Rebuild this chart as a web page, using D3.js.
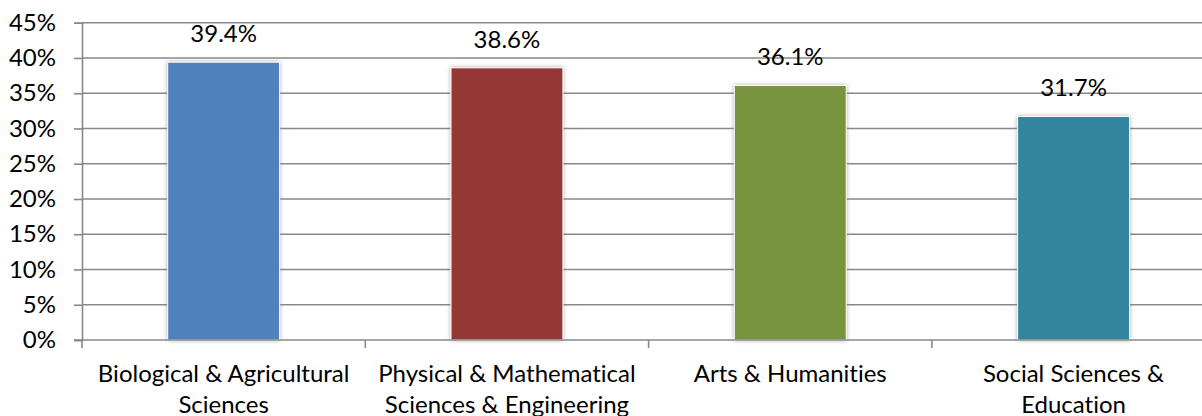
<!DOCTYPE html>
<html>
<head>
<meta charset="utf-8">
<script src="https://cdn.jsdelivr.net/npm/d3@7"></script>
<style>
  body { margin: 0; background: #fff; }
  svg text { font-family: Lato, "Open Sans", sans-serif; fill: #000; font-variant-ligatures: none; }
</style>
</head>
<body>
<div id="chart-area"></div>
<script>
// categories and values
var categories = [
    ["Biological & Agricultural", "Sciences"],
    ["Physical & Mathematical", "Sciences & Engineering"],
    ["Arts & Humanities"],
    ["Social Sciences &", "Education"]
];
var values = [39.4, 38.6, 36.1, 31.7];
var colors = ["#4f81bd", "#953735", "#77933c", "#31859c"];
var yTicks = [0, 5, 10, 15, 20, 25, 30, 35, 40, 45];

var width = 1202, height = 416;
var plotLeft = 82, plotBottom = 340, plotTop = 22.7;
var step = 283.3;
var fontSize = "24px";

var svg = d3.select("#chart-area").append("svg")
    .attr("width", width)
    .attr("height", height);

var defs = svg.append("defs");
var f = defs.append("filter").attr("id", "glow")
    .attr("x", "-20%").attr("y", "-20%").attr("width", "140%").attr("height", "140%");
f.append("feDropShadow")
    .attr("dx", 0).attr("dy", 0)
    .attr("stdDeviation", 2)
    .attr("flood-color", "#888")
    .attr("flood-opacity", 0.7);

var x = d3.scaleBand()
    .domain(d3.range(categories.length))
    .range([plotLeft, plotLeft + step * categories.length])
    .paddingInner(0.605)
    .paddingOuter(0.3025);

var y = d3.scaleLinear()
    .domain([0, 45])
    .range([plotBottom, plotTop]);

// gridlines
svg.selectAll("line.grid")
    .data(yTicks.slice(1))
    .enter()
    .append("line")
    .attr("class", "grid")
    .attr("x1", plotLeft).attr("x2", width)
    .attr("y1", function(d){ return y(d); })
    .attr("y2", function(d){ return y(d); })
    .attr("stroke", "#888")
    .attr("stroke-width", 1.6);

// bars
svg.selectAll("rect.bar")
    .data(values)
    .enter()
    .append("rect")
    .attr("class", "bar")
    .attr("x", function(d, i){ return x(i); })
    .attr("y", function(d){ return y(d); })
    .attr("width", x.bandwidth())
    .attr("height", function(d){ return plotBottom - y(d); })
    .attr("fill", function(d, i){ return colors[i]; })
    .attr("stroke", "#fff")
    .attr("stroke-width", 1)
    .attr("filter", "url(#glow)");

// value labels
svg.selectAll("text.val")
    .data(values)
    .enter()
    .append("text")
    .attr("class", "val")
    .attr("x", function(d, i){ return x(i) + x.bandwidth() / 2; })
    .attr("y", function(d){ return y(d) - 20; })
    .attr("text-anchor", "middle")
    .style("font-size", fontSize)
    .text(function(d){ return d.toFixed(1) + "%"; });

// y axis
var yAxis = d3.axisLeft(y)
    .tickValues(yTicks)
    .tickSize(8)
    .tickPadding(18)
    .tickFormat(function(d){ return d + "%"; });

var gy = svg.append("g")
    .attr("transform", "translate(" + plotLeft + ",0)")
    .call(yAxis);
gy.attr("font-family", null).attr("font-size", null);
gy.select(".domain").attr("stroke", "#888").attr("stroke-width", 1.6);
gy.selectAll(".tick line").attr("stroke", "#888").attr("stroke-width", 1.6);
gy.selectAll(".tick text").style("font-size", fontSize);

// x axis baseline and ticks between categories
svg.append("line")
    .attr("x1", plotLeft - 8).attr("x2", width)
    .attr("y1", plotBottom).attr("y2", plotBottom)
    .attr("stroke", "#888").attr("stroke-width", 1.6);

svg.selectAll("line.xtick")
    .data(d3.range(categories.length + 1))
    .enter()
    .append("line")
    .attr("class", "xtick")
    .attr("x1", function(d){ return plotLeft + d * step; })
    .attr("x2", function(d){ return plotLeft + d * step; })
    .attr("y1", plotBottom).attr("y2", plotBottom + 8)
    .attr("stroke", "#888").attr("stroke-width", 1.6);

// category labels
var cat = svg.selectAll("text.cat")
    .data(categories)
    .enter()
    .append("text")
    .attr("class", "cat")
    .attr("x", function(d, i){ return x(i) + x.bandwidth() / 2; })
    .attr("y", 382)
    .attr("text-anchor", "middle")
    .style("font-size", fontSize);

cat.selectAll("tspan")
    .data(function(d){ return d; })
    .enter()
    .append("tspan")
    .attr("x", function(){ return d3.select(this.parentNode).attr("x"); })
    .attr("dy", function(d, i){ return i ? 31 : 0; })
    .text(function(d){ return d; });
</script>
</body>
</html>
